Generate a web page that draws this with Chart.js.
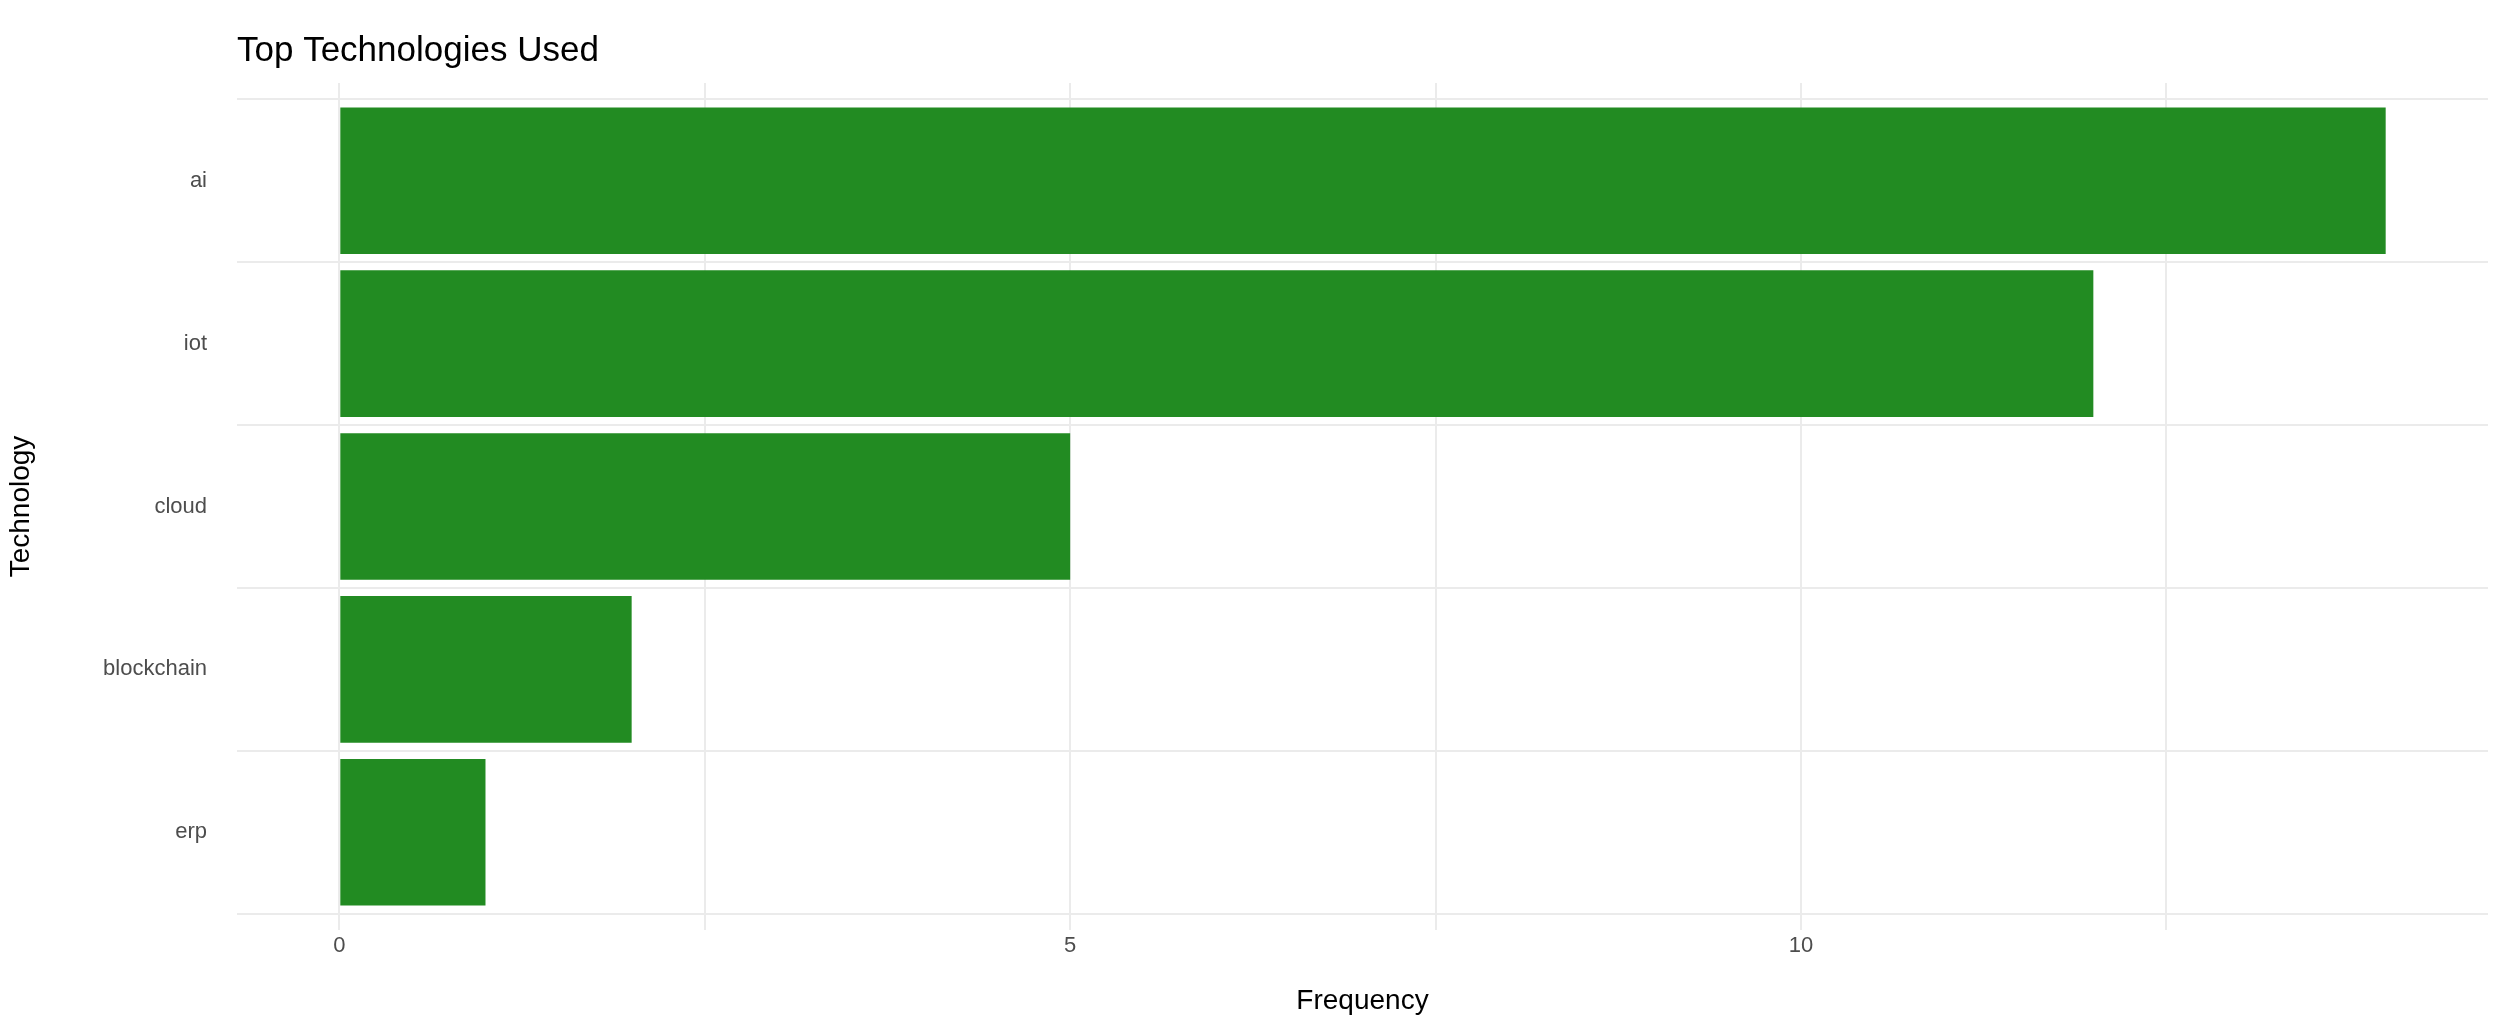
<!DOCTYPE html>
<html><head><meta charset="utf-8">
<script src="https://cdn.jsdelivr.net/npm/chart.js@4"></script>
<style>html,body{margin:0;padding:0;background:#fff}#w{width:2508px;height:1022px}</style>
</head><body><div id="w"><canvas id="c"></canvas></div>
<script>
const categories = ["ai","iot","cloud","blockchain","erp"];
const frequencies = [14,12,5,2,1];
const xTickLabels = [0,5,10];
const titleText = "Top Technologies Used";

const titlePlugin = {
  id:'t',
  afterDraw(chart){
    const ctx = chart.ctx;
    ctx.save();
    ctx.font = '35px "Liberation Sans", Arial, sans-serif';
    ctx.fillStyle = '#000';
    ctx.textBaseline = 'middle';
    ctx.fillText(titleText, chart.chartArea.left, 51);
    ctx.restore();
  }
};

new Chart(document.getElementById('c'), {
  type:'bar',
  data:{datasets:[{
    data: frequencies.map((v,i)=>({x:v,y:i})),
    backgroundColor:'#228B22',
    categoryPercentage:0.9, barPercentage:1
  }]},
  plugins:[titlePlugin],
  options:{
    indexAxis:'y', responsive:true, maintainAspectRatio:false, animation:false,
    layout:{padding:{top:83,right:20,left:0,bottom:0}},
    plugins:{legend:{display:false},tooltip:{enabled:false}},
    scales:{
      x:{type:'linear', min:-0.7, max:14.7,
        afterBuildTicks(s){ s.ticks=[0,2.5,5,7.5,10,12.5].map(v=>({value:v})); },
        ticks:{autoSkip:false, maxRotation:0, color:'#4d4d4d', font:{size:22,family:'"Liberation Sans", Arial'},
          callback:(v)=> xTickLabels.includes(v)? String(v):''},
        grid:{color:'#ebebeb', lineWidth:2, drawTicks:false}, border:{display:false},
        title:{display:true,text:'Frequency',color:'#000',font:{size:28,family:'"Liberation Sans", Arial'},padding:{top:4}},
        afterFit(s){ s.height = 92; }
      },
      y:{type:'linear', reverse:true, min:-0.6, max:4.6, offset:false,
        afterBuildTicks(s){ s.ticks=categories.map((c,i)=>({value:i})); },
        ticks:{autoSkip:false, color:'#4d4d4d', font:{size:22,family:'"Liberation Sans", Arial'}, padding:30,
          callback:(v)=> categories[v] ?? ''},
        grid:{color:'#ebebeb', lineWidth:2, drawTicks:false}, border:{display:false},
        title:{display:true,text:'Technology',color:'#000',font:{size:28,family:'"Liberation Sans", Arial'}},
        afterFit(s){ s.width = 237; }
      }
    }
  }
});
</script></body></html>
